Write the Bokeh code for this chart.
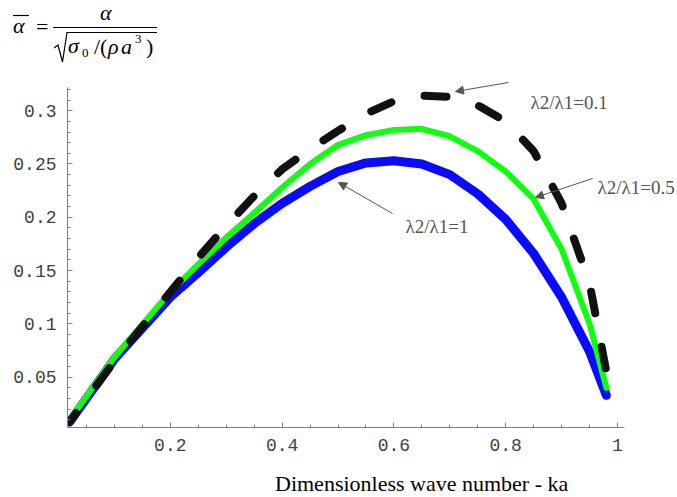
from bokeh.plotting import figure
from bokeh.layouts import column
from bokeh.models import FixedTicker, Label, Arrow, NormalHead, Div
from bokeh.embed import file_html
from bokeh.resources import INLINE
import numpy as np

# Dimensionless wave number ka
ka = [0.02, 0.10, 0.20, 0.25, 0.30, 0.35, 0.40, 0.45, 0.50, 0.55,
      0.60, 0.65, 0.70, 0.75, 0.80, 0.85, 0.90, 0.95, 0.98]

# Dimensionless growth rate for three viscosity ratios
rate_ratio_1 = [0.008, 0.067, 0.125, 0.148, 0.172, 0.194, 0.213, 0.229, 0.243, 0.251,
                0.253, 0.250, 0.240, 0.222, 0.198, 0.166, 0.125, 0.074, 0.033]
rate_ratio_05 = [0.010, 0.069, 0.130, 0.156, 0.181, 0.204, 0.228, 0.250, 0.268, 0.277,
                 0.282, 0.283, 0.276, 0.262, 0.243, 0.217, 0.170, 0.100, 0.040]
rate_ratio_01 = [0.008, 0.065, 0.130, 0.162, 0.192, 0.220, 0.245, 0.264, 0.281, 0.297,
                 0.309, 0.314, 0.313, 0.305, 0.290, 0.262, 0.213, 0.138, 0.055]

x_ticks = [0.2, 0.4, 0.6, 0.8, 1.0]
x_tick_labels = ["0.2", "0.4", "0.6", "0.8", "1"]
y_ticks = [0.05, 0.10, 0.15, 0.20, 0.25, 0.30]
y_tick_labels = ["0.05", "0.1", "0.15", "0.2", "0.25", "0.3"]

W = 677
HEAD_H = 70          # formula strip on top
PLOT_H = 400         # figure
FOOT_H = 27          # axis title strip
LEFT, BOTTOM = 67, 43

# axes extent (data units); the visible window is a bit wider
X_AXIS = (0.0161, 1.0125)
Y_AXIS = (0.0028, 0.3218)

p = figure(width=W, height=PLOT_H, x_range=(0.0161, 1.1073), y_range=(0.0028, 0.3377),
           min_border_left=LEFT, min_border_right=0,
           min_border_top=0, min_border_bottom=BOTTOM,
           output_backend="svg", toolbar_location=None, margin=(0, 0, 0, 0))
p.outline_line_color = None
p.grid.visible = False
p.background_fill_color = "white"
p.border_fill_color = "white"

p.xaxis.ticker = FixedTicker(ticks=x_ticks,
                             minor_ticks=list(np.round(np.arange(0.05, 1.01, 0.05), 3)))
p.yaxis.ticker = FixedTicker(ticks=y_ticks,
                             minor_ticks=list(np.round(np.arange(0.01, 0.321, 0.01), 3)))
p.xaxis.major_label_overrides = dict(zip(x_ticks, x_tick_labels))
p.yaxis.major_label_overrides = dict(zip(y_ticks, y_tick_labels))
p.xaxis.bounds = X_AXIS
p.yaxis.bounds = Y_AXIS

for ax in (p.xaxis, p.yaxis):
    ax.axis_line_color = "#808080"
    ax.major_tick_line_color = "#808080"
    ax.minor_tick_line_color = "#808080"
    ax.major_tick_in = 5
    ax.major_tick_out = 0
    ax.minor_tick_in = 3
    ax.minor_tick_out = 0
    ax.major_label_text_font = "Liberation Mono"
    ax.major_label_text_font_size = "18px"
    ax.major_label_text_color = "#404040"
    ax.major_label_standoff = 11

p.line(ka, rate_ratio_1, line_color="#0a0aff", line_width=9, line_cap="round", line_join="round")
p.line(ka, rate_ratio_05, line_color="#10ff10", line_width=6, line_cap="round", line_join="round")
p.line(ka, rate_ratio_01, line_color="#111111", line_width=8, line_dash="22 34",
       line_dash_offset=11, line_cap="round", line_join="round")


def sxy(px, py):
    """Page pixel (from top-left) -> frame screen units."""
    return px - LEFT, (HEAD_H + PLOT_H - BOTTOM) - py


def text(s, px, py, size="19px", color="#555555"):
    x, y = sxy(px, py)
    p.add_layout(Label(x=x, y=y, x_units="screen", y_units="screen", text=s,
                       text_font="Liberation Serif", text_font_size=size,
                       text_color=color, text_align="left", text_baseline="alphabetic"))


def pointer(px0, py0, px1, py1, color="#555555"):
    x0, y0 = sxy(px0, py0)
    x1, y1 = sxy(px1, py1)
    p.add_layout(Arrow(x_start=x0, y_start=y0, x_end=x1, y_end=y1,
                       start_units="screen", end_units="screen", start=None,
                       end=NormalHead(size=8, fill_color=color, line_color=color),
                       line_color=color, line_width=1))


# Curve annotations
text("\u03bb2/\u03bb1=0.1", 530, 102)
pointer(508, 82, 455, 91)
text("\u03bb2/\u03bb1=0.5", 597, 187)
pointer(592, 178, 535, 197)
text("\u03bb2/\u03bb1=1", 405, 226)
pointer(392, 213, 338, 182)

# Scaling of the growth rate, set as inline SVG
serif = "font-family:'Liberation Serif',serif;"
ital = serif + "font-style:italic;"
formula = f"""
<svg width="{W}" height="{HEAD_H}" xmlns="http://www.w3.org/2000/svg" style="display:block">
  <g fill="#000">
    <text x="13" y="33" style="{ital}font-size:22px">&#945;</text>
    <text x="36" y="34" style="{serif}font-size:22px">=</text>
    <text x="100" y="20" style="{ital}font-size:22px">&#945;</text>
    <text x="68" y="53" style="{ital}font-size:22px">&#963;</text>
    <text x="82" y="57" style="{serif}font-size:13px">0</text>
    <text x="94" y="54" style="{serif}font-size:22px">/(</text>
    <text x="108" y="54" style="{ital}font-size:22px">&#961;</text>
    <text x="121" y="54" style="{ital}font-size:22px">a</text>
    <text x="135" y="43" style="{serif}font-size:13px">3</text>
    <text x="146" y="54" style="{serif}font-size:22px">)</text>
  </g>
  <g stroke="#000" fill="none">
    <line x1="13" y1="15.5" x2="29" y2="15.5" stroke-width="1.2"/>
    <line x1="53" y1="27.5" x2="157" y2="27.5" stroke-width="1.2"/>
    <polyline points="54,48 58,45 62.5,62 67,32.5 157,32.5" stroke-width="1.2"/>
  </g>
</svg>"""
head = Div(text=formula, width=W, height=HEAD_H, margin=(0, 0, 0, 0))

title = f"""
<svg width="{W}" height="{FOOT_H}" xmlns="http://www.w3.org/2000/svg" style="display:block">
  <text x="275" y="21" style="{serif}font-size:22px" fill="#000">Dimensionless wave number - ka</text>
</svg>"""
foot = Div(text=title, width=W, height=FOOT_H, margin=(0, 0, 0, 0))

layout = column(head, p, foot, spacing=0)

open("out.html", "w").write(file_html(layout, INLINE))
